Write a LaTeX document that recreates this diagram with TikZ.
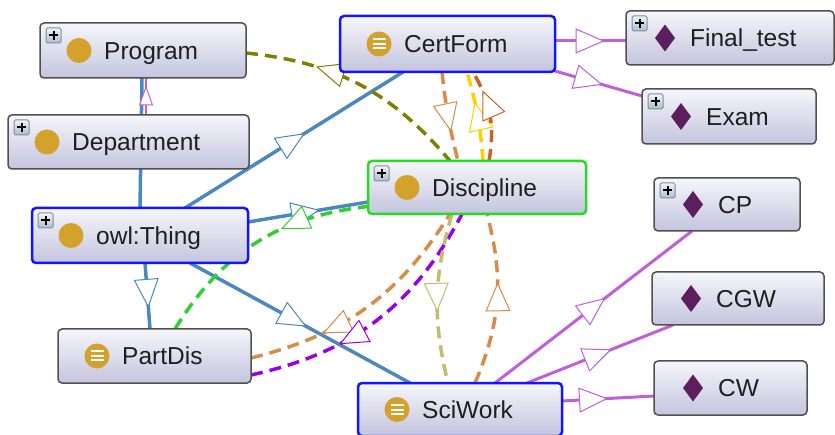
\documentclass[tikz,border=0pt]{standalone}
\usepackage{fontspec}
\setmainfont{Liberation Sans}
\usetikzlibrary{arrows.meta,decorations.markings,fit,calc}
\pgfdeclarelayer{bgzero}\pgfdeclarelayer{background}
\pgfsetlayers{bgzero,background,main}
\definecolor{ogGold}{HTML}{D4A12C}
\definecolor{ogPlum}{HTML}{5A1F5C}
\definecolor{boxgray}{HTML}{505050}
\definecolor{boxtop}{HTML}{F6F6FB}
\definecolor{boxbot}{HTML}{C4C4DE}
\definecolor{selblue}{HTML}{1414FF}
\definecolor{selgreen}{HTML}{22DD22}
\definecolor{plusedge}{HTML}{7A8EA0}
\definecolor{plustop}{HTML}{F2F4F6}
\definecolor{plusbot}{HTML}{AEBCCA}
\definecolor{edgeblue}{HTML}{4A88BE}
\definecolor{cOlive}{HTML}{808000}
\definecolor{cGreen}{HTML}{30D030}
\definecolor{cOrange}{HTML}{D98C4A}
\definecolor{cYellow}{HTML}{FFD000}
\definecolor{cChoc}{HTML}{C8642A}
\definecolor{cPurple}{HTML}{9A00E6}
\definecolor{cKhaki}{HTML}{C4BC6C}
\definecolor{cMag}{HTML}{C060D8}
\tikzset{
  box/.style={draw=boxgray, line width=1.5pt, rounded corners=4pt, top color=boxtop, bottom color=boxbot, inner sep=0pt, outer sep=0pt},
  selb/.style={draw=selblue, line width=2.5pt},
  selg/.style={draw=selgreen, line width=2.5pt},
  plain/.style={},
  lbl/.style={font=\fontsize{24.5}{29}\selectfont, inner sep=0pt, text=black!88},
  plusb/.style={draw=plusedge, line width=1pt, top color=plustop, bottom color=plusbot, rounded corners=1.5pt},
  ot/.tip={Triangle[fill=white, line width=1pt, length=29pt, width=25pt]},
  ots/.tip={Triangle[fill=white, line width=1pt, length=20pt, width=14pt]},
  tipat/.style={postaction={decorate}, decoration={markings, mark=at position #1 with {\arrow{ot}}}},
  tipbk/.style={postaction={decorate}, decoration={markings, mark=at position #1 with {\arrowreversed{ot}}}},
  tipsm/.style={postaction={decorate}, decoration={markings, mark=at position #1 with {\arrow{ots}}}},
  sub/.style={edgeblue, line width=3.5pt},
  dsh/.style={line width=3.5pt, dash pattern=on 12pt off 7pt},
  mg/.style={cMag, line width=3pt},
}
\newcommand{\plusbox}[1]{%
  \draw[plusb] ([xshift=6pt,yshift=-5pt]#1.north west) rectangle ++(15,15);
  \draw[line width=2pt, black] ([xshift=13.5pt,yshift=-8pt]#1.north west) -- ++(0,9);
  \draw[line width=2pt, black] ([xshift=9pt,yshift=-12.5pt]#1.north west) -- ++(9,0);
}
\newcommand{\iconcirc}[1]{\fill[ogGold] ([xshift=39pt]#1.west) circle[radius=12.5pt];}
\newcommand{\iconequiv}[1]{\iconcirc{#1}%
  \foreach \dy in {-4.5,0,4.5}{\draw[white,line width=2pt] ([xshift=32.5pt,yshift=\dy pt]#1.west) -- ++(13,0);}}
\newcommand{\icondiam}[1]{\fill[ogPlum] ([xshift=39pt,yshift=13.5pt]#1.west) -- ++(10,13.5) -- ++(-10,13.5) -- ++(-10,-13.5) -- cycle;}
\newcommand{\ontonode}[9]{%
  \node[box,#6,fit={(#2,#3) (#4,#5)}] (#1) {};
  \ifnum#7=1 \plusbox{#1}\fi
  \csname icon#8\endcsname{#1}%
  \node[lbl, anchor=base west] (#1-t) at ([xshift=64pt,yshift=-8.8pt]#1.west) {#9};
}
\begin{document}
\begin{tikzpicture}[x=1pt,y=-1pt]
\begin{pgfonlayer}{bgzero}
\fill[white] (0,0) rectangle (835,435);
\end{pgfonlayer}
\useasboundingbox (0,0) rectangle (835,435);

\ontonode{prog}{40}{23}{246}{78}{plain}{1}{circ}{Program}
\ontonode{dept}{8}{115}{249}{169}{plain}{1}{circ}{Department}
\ontonode{thing}{32}{208}{248}{263}{selb}{1}{circ}{owl:Thing}
\ontonode{partdis}{58}{329}{251}{383}{plain}{0}{equiv}{PartDis}
\ontonode{cert}{340}{16}{555}{72}{selb}{0}{equiv}{CertForm}
\ontonode{disc}{368}{161}{586}{214}{selg}{1}{circ}{Discipline}
\ontonode{sci}{358}{383}{562}{436}{selb}{0}{equiv}{SciWork}
\ontonode{final}{626}{11}{834}{65}{plain}{1}{diam}{Final\_test}
\ontonode{exam}{642}{89}{816}{144}{plain}{1}{diam}{Exam}
\ontonode{cp}{654}{178}{800}{231}{plain}{1}{diam}{CP}
\ontonode{cgw}{652}{272}{824}{325}{plain}{0}{diam}{CGW}
\ontonode{cw}{654}{361}{807}{415}{plain}{0}{diam}{CW}

\begin{pgfonlayer}{background}
% subclass edges (blue)
\draw[sub] (thing.north) -- ([xshift=-1pt]prog.south);
\draw[mg, line width=2pt, tipsm=0.8] ([xshift=17.5pt]dept.north) -- ([xshift=3pt]prog.south);
\draw[sub, tipat=0.55] ([xshift=45pt]thing.north) -- ([xshift=-44.5pt]cert.south);
\draw[sub, tipat=0.6] ([yshift=13.5pt]thing.east) -- ([yshift=-14.5pt]disc.west);
\draw[sub, tipat=0.68] ([xshift=5pt]thing.south) -- ([xshift=-4.5pt]partdis.north);
\draw[sub, tipat=0.53] ([xshift=50pt]thing.south) -- ([xshift=-50pt]sci.north);
% dashed object property edges
\draw[dsh, cOlive, tipbk=0.3] ([yshift=-2.5pt]prog.east) to[bend left=22] ([xshift=-27pt]disc.north);
\draw[dsh, cOrange, tipat=0.67] ([xshift=-5.5pt]cert.south) to[bend right=4] ([xshift=-19pt]disc.north);
\draw[dsh, cYellow, tipat=0.66] ([xshift=6pt]disc.north) to[bend right=6] ([xshift=19.5pt]cert.south);
\draw[dsh, cChoc, tipat=0.78] ([xshift=12pt]disc.north) to[bend right=20] ([xshift=25.5pt]cert.south);
\draw[dsh, cGreen, tipbk=0.62] ([xshift=20.5pt]partdis.north) to[bend left=26] ([yshift=-19pt]disc.west);
\draw[dsh, cOrange, tipbk=0.3] ([yshift=-2pt]partdis.east) to[bend right=22] ([xshift=-27pt]disc.south);
\draw[dsh, cPurple, tipbk=0.34] ([yshift=-19pt]partdis.east) to[bend right=25] ([xshift=-15pt]disc.south);
\draw[dsh, cKhaki, tipat=0.58] ([xshift=-25pt]disc.south) to[bend right=15] ([xshift=-12pt]sci.north);
\draw[dsh, cOrange, tipat=0.6] ([xshift=15pt]sci.north) to[bend right=19] ([xshift=10pt]disc.south);
% individuals (magenta)
\draw[mg, tipat=0.7] ([yshift=3pt]cert.east) -- ([yshift=-3pt]final.west);
\draw[mg, tipat=0.55] ([yshift=1pt]cert.south east) -- ([yshift=20.5pt]exam.west);
\draw[mg, tipat=0.56] ([xshift=35pt]sci.north) -- ([xshift=-35pt]cp.south);
\draw[mg, tipat=0.58] ([xshift=67pt]sci.north) -- ([xshift=-65pt]cgw.south);
\draw[mg, tipat=0.5] ([yshift=8.5pt]sci.east) -- ([yshift=-8pt]cw.west);
\end{pgfonlayer}
\end{tikzpicture}
\end{document}
